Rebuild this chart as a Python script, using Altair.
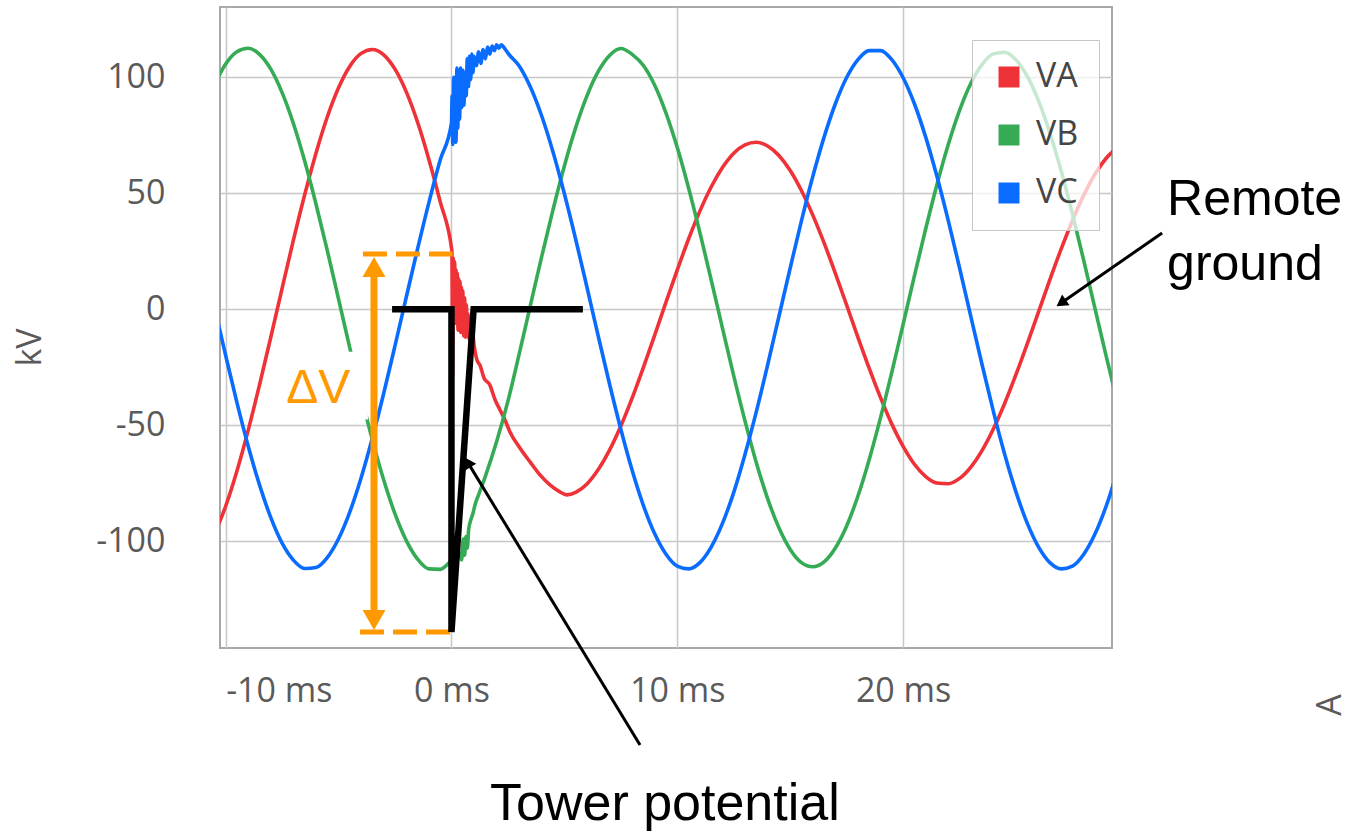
import altair as alt
import pandas as pd

# ---------------- data ----------------
SERIES = ["VA", "VB", "VC"]
COLORS = ["#ee3237", "#36ab56", "#0a6cff"]

GRID_PRE = [-10.5, -10.0, -9.5, -9.0, -8.5, -8.0, -7.5, -7.0, -6.5, -6.0, -5.5,
            -5.0, -4.5, -4.0, -3.5, -3.0, -2.5, -2.0, -1.5, -1.0, -0.5, 0.0]
GRID_POST = [1.5, 2.0, 2.5, 3.0, 3.5, 4.0, 4.5, 5.0, 5.5, 6.0, 6.5, 7.0, 7.5, 8.0,
             8.5, 9.0, 9.5, 10.0, 10.5, 11.0, 11.5, 12.0, 12.5, 13.0, 13.5, 14.0,
             14.5, 15.0, 15.5, 16.0, 16.5, 17.0, 17.5, 18.0, 18.5, 19.0, 19.5, 20.0,
             20.5, 21.0, 21.5, 22.0, 22.5, 23.0, 23.5, 24.0, 24.5, 25.0, 25.5, 26.0,
             26.5, 27.0, 27.5, 28.0, 28.5, 29.0, 29.5]

# VA (red)
VA_PRE = [-97.0, -84.9, -69.7, -52.1, -32.6, -12.0, 9.0, 29.8, 49.4, 67.3, 82.9,
          95.5, 104.8, 110.3, 112.0, 109.7, 103.5, 93.7, 80.6, 64.6, 46.4, 26.5]
VA_NOISE_T = [0.02, 0.05, 0.08, 0.11, 0.14, 0.17, 0.20, 0.23, 0.26, 0.29, 0.32, 0.35,
              0.38, 0.41, 0.44, 0.47, 0.50, 0.54, 0.58, 0.62, 0.66, 0.70, 0.74, 0.78,
              0.82, 0.87, 0.92, 1.00, 1.13, 1.26, 1.44, 1.70, 1.93,
              2.15, 2.37, 2.59, 3.03, 3.48, 3.92, 4.36, 4.80, 5.10]
VA_NOISE_V = [25.0, -29.0, 22.0, 2.0, 20.5, -6.0, 17.0, -2.0, 15.5, -9.0, 13.0, -4.0,
              12.0, -10.0, 9.5, -6.0, 8.0, -11.5, 5.0, -12.0, 2.0, -10.0, -2.0, -13.0,
              -5.0, -14.0, -9.0, -15.4, -21.9, -24.0, -29.6, -32.6,
              -39.0, -43.4, -47.7, -52.9, -59.8, -65.8, -71.4, -75.7, -78.7, -80.0]
VA_POST = [-78.9, -75.3, -69.1, -60.7, -50.3, -38.3, -25.0, -11.1, 3.1, 17.0, 30.3,
           42.3, 52.7, 61.1, 67.3, 70.9, 72.0, 70.4, 66.3, 59.8, 51.1, 40.6, 28.6,
           15.5, 1.8, -12.1, -25.5, -38.1, -49.5, -59.1, -66.8, -72.1, -74.9, -75.2,
           -72.9, -68.0, -60.8, -51.5, -40.5, -28.1, -14.8, -1.0, 12.8, 26.0, 38.3,
           49.2, 58.3, 65.2, 69.8]

# VB (green)
VB_PRE = [96.6, 105.7, 111.0, 112.5, 109.9, 103.5, 93.4, 80.1, 63.9, 45.4, 25.4,
          4.4, -16.7, -37.2, -56.4, -73.6, -88.2, -99.7, -107.7, -111.9, -112.1, -108.4]
VB_NOISE_T = [0.2, 0.35, 0.45, 0.52, 0.58, 0.64, 0.7, 0.76, 0.85, 0.95, 1.05, 1.2]
VB_NOISE_V = [-107.0, -105.0, -108.0, -99.0, -106.0, -98.0, -103.0, -95.0, -91.0,
              -88.0, -84.0, -80.0]
VB_POST = [-72.0, -57.0, -39.6, -19.2, 1.9, 22.9, 43.1, 61.8, 78.3, 92.0, 102.5,
           109.4, 112.4, 109.9, 105.1, 96.6, 84.6, 69.7, 52.3, 33.1, 12.7, -8.1,
           -28.7, -48.2, -66.1, -81.6, -94.2, -103.5, -109.2, -111.0, -108.9, -102.9,
           -93.4, -80.5, -64.7, -46.7, -27.1, -6.5, 14.4, 34.7, 53.8, 71.0, 85.7,
           97.4, 105.6, 110.1, 110.8, 107.5, 100.4, 89.8, 76.0, 59.6, 41.0, 21.0,
           0.2, -20.5, -40.6]

# VC (blue)
VC_PRE = [1.1, -19.9, -40.2, -59.0, -75.7, -89.8, -100.8, -108.1, -111.7, -111.3,
          -107.0, -98.9, -87.3, -72.6, -55.4, -36.2, -15.7, 5.3, 26.1, 46.0, 64.3, 80.3]
VC_NOISE_T = [0.03, 0.06, 0.1, 0.13, 0.17, 0.2, 0.24, 0.28, 0.32, 0.36, 0.4, 0.45,
              0.5, 0.55, 0.6, 0.65, 0.7, 0.75, 0.8, 0.85, 0.9, 0.95, 1.0, 1.1, 1.2,
              1.3, 1.4, 1.5, 1.6, 1.7, 1.8, 1.9, 2.0, 2.1, 2.2, 2.35]
VC_NOISE_V = [92, 71, 100, 74, 96, 72, 104, 78, 101, 82, 104, 87, 103, 88, 102, 92,
              108, 96, 109, 99, 110, 102, 109, 105, 111, 106, 112, 108, 113, 110,
              113.5, 111.5, 114, 112.5, 114, 112.5]
VC_POST = [110.4, 104.9, 95.7, 83.2, 67.7, 49.8, 30.2, 9.5, -11.6, -32.2, -51.7,
           -69.4, -84.6, -96.8, -105.6, -110.7, -111.9, -109.2, -102.5, -92.3, -78.9,
           -62.5, -44.1, -24.0, -3.1, 17.8, 38.2, 57.2, 74.2, 88.6, 99.9, 107.6,
           111.5, 111.5, 107.6, 99.8, 88.6, 74.2, 57.2, 38.2, 17.8, -3.2, -24.0,
           -44.1, -62.6, -78.8, -92.3, -102.5, -109.2, -111.9, -110.7, -105.6, -96.8,
           -84.6, -69.4]

X_TICKS = [-10, 0, 10, 20]
Y_TICKS = [-100, -50, 0, 50, 100]

# annotations (data units: ms, kV)
BOX_T = [-7.5, -3.7]
BOX_V = [-18.3, -47.5]
DV_T, DV_V = -5.9, -34.3
DASH_T1 = [-3.92, -4.05]
DASH_T2 = [0.05, 0.05]
DASH_V = [23.8, -139.1]
SHAFT_T, SHAFT_V1, SHAFT_V2 = -3.43, 16.0, -131.5
OHEAD_T = [-3.43, -3.43]
OHEAD_V = [18.2, -133.9]
OHEAD_A = [0, 180]
TOWER_T = [-2.63, 0.0, 0.0, 0.98, 5.82]
TOWER_V = [0.0, 0.0, -139.1, 0.0, 0.0]
ARROW_T1 = [8.35, 31.47]
ARROW_V1 = [-187.8, 32.9]
ARROW_T2 = [0.72, 27.0]
ARROW_V2 = [-66.0, 2.7]
ARROW_A = [328.6, 235.2]
CENTER_LABELS = ["Tower potential"]
CENTER_T = [9.45]
CENTER_V = [-220.1]
LEFT_LABELS = ["Remote", "ground"]
LEFT_T = [31.69, 31.69]
LEFT_V = [40.6, 12.6]
A_T, A_V = 38.95, -170.6

# ---------------- tables ----------------
rows = []
for name, ts, vs in [
    ("VA", GRID_PRE + VA_NOISE_T + GRID_POST[8:], VA_PRE + VA_NOISE_V + VA_POST),
    ("VB", GRID_PRE + VB_NOISE_T + GRID_POST, VB_PRE + VB_NOISE_V + VB_POST),
    ("VC", GRID_PRE + VC_NOISE_T + GRID_POST[2:], VC_PRE + VC_NOISE_V + VC_POST),
]:
    assert len(ts) == len(vs), name
    for t, v in zip(ts, vs):
        rows.append({"t": t, "v": v, "series": name})
df = pd.DataFrame(rows)

XS = alt.Scale(domain=[-10.25, 29.25], nice=False, zero=False)
YS = alt.Scale(domain=[-146.0, 130.3], nice=False, zero=False)
GRAY = "#5a5a5a"
ORANGE = "#ff9900"

AX = alt.Axis(values=X_TICKS, labelExpr="datum.value + ' ms'",
              grid=True, gridColor="#c8c8c8", gridWidth=1.5,
              ticks=False, tickSize=0, domain=False,
              labelFont="Open Sans", labelFontSize=34, labelColor=GRAY,
              labelPadding=26, labelFlush=12)
AY = alt.Axis(values=Y_TICKS, labelExpr="'' + datum.value",
              grid=True, gridColor="#c8c8c8", gridWidth=1.5,
              ticks=False, tickSize=0, domain=False,
              labelFont="Open Sans", labelFontSize=34, labelColor=GRAY,
              labelPadding=55,
              titleFont="Open Sans", titleFontSize=34, titleColor=GRAY,
              titleFontWeight="normal", titleAngle=270,
              titleX=-190, titleY=340, titleAlign="center", titleBaseline="middle")


def X(f):
    return alt.X(f"{f}:Q", scale=XS, axis=AX, title=None)


def Y(f):
    return alt.Y(f"{f}:Q", scale=YS, axis=AY, title="kV")


lines = alt.Chart(df).mark_line(strokeWidth=3.6, clip=True, interpolate="monotone").encode(
    x=X("t"), y=Y("v"),
    stroke=alt.Stroke("series:N", scale=alt.Scale(range=COLORS), legend=None),
)

box = alt.Chart(pd.DataFrame({"t1": [BOX_T[0]], "t2": [BOX_T[1]],
                              "v1": [BOX_V[0]], "v2": [BOX_V[1]]})).mark_rect(
    color="white", opacity=1).encode(x=X("t1"), x2="t2", y=Y("v1"), y2="v2")

dv = alt.Chart(pd.DataFrame({"t": [DV_T], "v": [DV_V], "s": ["ΔV"]})).mark_text(
    font="Liberation Sans", fontSize=48, color=ORANGE, align="center",
    baseline="middle").encode(x=X("t"), y=Y("v"), text="s:N")

dashes = alt.Chart(pd.DataFrame({"t1": DASH_T1, "t2": DASH_T2, "v": DASH_V})).mark_rule(
    color=ORANGE, strokeWidth=5, strokeDash=[24, 9]).encode(x=X("t1"), x2="t2", y=Y("v"))

shaft = alt.Chart(pd.DataFrame({"t": [SHAFT_T], "v1": [SHAFT_V1], "v2": [SHAFT_V2]})).mark_rule(
    color=ORANGE, strokeWidth=7).encode(x=X("t"), y=Y("v1"), y2="v2")

oheads = alt.Chart(pd.DataFrame({"t": OHEAD_T, "v": OHEAD_V, "a": OHEAD_A})).mark_point(
    shape="triangle-up", filled=True, size=529, opacity=1, strokeWidth=0,
    color=ORANGE).encode(x=X("t"), y=Y("v"), angle=alt.Angle("a:Q", scale=None))

tower = alt.Chart(pd.DataFrame({"t": TOWER_T, "v": TOWER_V,
                                "i": list(range(len(TOWER_T)))})).mark_line(
    color="black", strokeWidth=6.5, strokeJoin="miter", strokeCap="butt").encode(
    x=X("t"), y=Y("v"), order=alt.Order("i:Q"))

arrows = alt.Chart(pd.DataFrame({"t1": ARROW_T1, "v1": ARROW_V1,
                                 "t2": ARROW_T2, "v2": ARROW_V2})).mark_rule(
    color="black", strokeWidth=3).encode(x=X("t1"), y=Y("v1"), x2="t2", y2="v2")

aheads = alt.Chart(pd.DataFrame({"t": ARROW_T2, "v": ARROW_V2, "a": ARROW_A})).mark_point(
    shape="triangle-up", filled=True, size=170, opacity=1, strokeWidth=0,
    color="black").encode(x=X("t"), y=Y("v"), angle=alt.Angle("a:Q", scale=None))

ctext = alt.Chart(pd.DataFrame({"t": CENTER_T, "v": CENTER_V, "s": CENTER_LABELS})).mark_text(
    font="Liberation Sans", fontSize=52, color="black", align="center",
    baseline="alphabetic").encode(x=X("t"), y=Y("v"), text="s:N")

ltext = alt.Chart(pd.DataFrame({"t": LEFT_T, "v": LEFT_V, "s": LEFT_LABELS})).mark_text(
    font="Liberation Sans", fontSize=50, color="black", align="left",
    baseline="alphabetic").encode(x=X("t"), y=Y("v"), text="s:N")

atext = alt.Chart(pd.DataFrame({"t": [A_T], "v": [A_V], "s": ["A"]})).mark_text(
    font="Open Sans", fontSize=34, color=GRAY, align="center", baseline="middle",
    angle=270).encode(x=X("t"), y=Y("v"), text="s:N")

# hidden squares that carry the legend (positioned outside the clipped view)
legend_layer = alt.Chart(pd.DataFrame({"series": SERIES, "t": [-100.0] * 3,
                                       "v": [0.0] * 3})).mark_square(
    clip=True, opacity=1).encode(
    x=X("t"), y=Y("v"),
    fill=alt.Fill("series:N", scale=alt.Scale(domain=SERIES, range=COLORS),
                  legend=alt.Legend(title=None, orient="none", legendX=752, legendY=33,
                                    symbolType="square", symbolSize=441,
                                    symbolStrokeWidth=0,
                                    labelFont="Open Sans", labelFontSize=34,
                                    labelColor="#454545", labelOffset=10,
                                    padding=20, rowPadding=24,
                                    fillColor="rgba(255,255,255,0.72)",
                                    strokeColor="#c6c6c6")),
)

chart = alt.layer(
    lines, box, dv, dashes, shaft, oheads, tower, arrows, aheads,
    ctext, ltext, atext, legend_layer
).properties(
    width=892, height=641,
    padding={"left": 220, "top": 7, "right": 245, "bottom": 185},
    autosize=alt.AutoSizeParams(type="none"),
).configure_view(stroke="#a8a8a8", strokeWidth=2)

chart.save("out.html", embed_options={"renderer": "svg", "actions": False})
